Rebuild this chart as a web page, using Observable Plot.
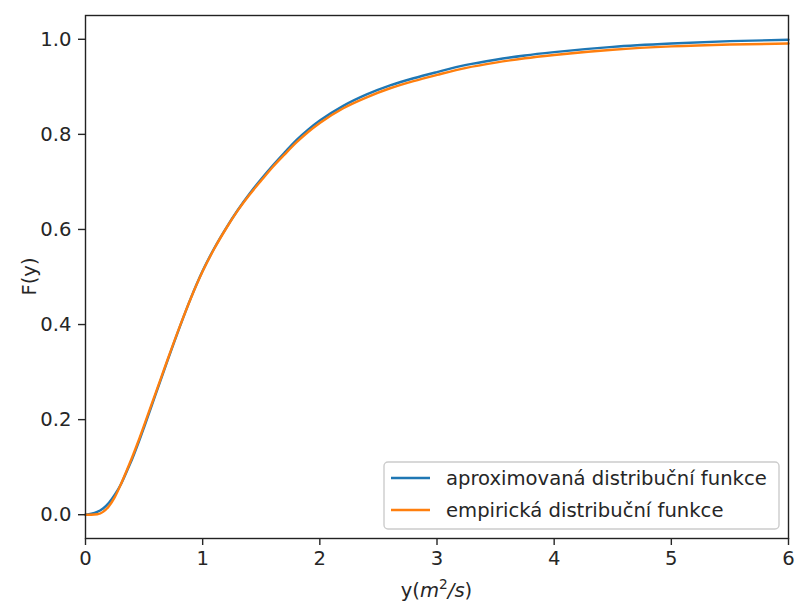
<!DOCTYPE html>
<html><head><meta charset="utf-8">
<script src="https://cdn.jsdelivr.net/npm/d3@7"></script>
<script src="https://cdn.jsdelivr.net/npm/@observablehq/plot@0.6"></script>
<style>
body{margin:0;background:#fff;}
#wrap{position:relative;width:795px;height:604px;}
</style></head><body><div id="wrap"></div>
<script>
// series names and colours
const seriesNames = ["aproximovaná distribuční funkce", "empirická distribuční funkce"];
const seriesColors = ["#1f77b4", "#ff7f0e"];
// x tick / y tick values
const xTicks = [0, 1, 2, 3, 4, 5, 6];
const yTicks = [0.0, 0.2, 0.4, 0.6, 0.8, 1.0];
// approximated CDF
const approxX = [0, 0.05, 0.1, 0.15, 0.2, 0.25, 0.3, 0.35, 0.4, 0.45, 0.5, 0.6, 0.7, 0.8, 0.9, 1.0, 1.1, 1.2, 1.3, 1.4, 1.5, 1.6, 1.7, 1.8, 1.9, 2.0, 2.2, 2.4, 2.6, 2.8, 3.0, 3.25, 3.5, 3.75, 4.0, 4.5, 5.0, 5.5, 6.0];
const approxF = [0, 0.002, 0.006, 0.013, 0.025, 0.042, 0.063, 0.09, 0.118, 0.15, 0.184, 0.254, 0.324, 0.392, 0.456, 0.513, 0.561, 0.603, 0.641, 0.675, 0.706, 0.735, 0.762, 0.788, 0.81, 0.829, 0.86, 0.884, 0.903, 0.918, 0.931, 0.946, 0.957, 0.966, 0.973, 0.984, 0.991, 0.996, 0.999];
const empX = [0, 0.05, 0.1, 0.15, 0.2, 0.25, 0.3, 0.35, 0.4, 0.45, 0.5, 0.6, 0.7, 0.8, 0.9, 1.0, 1.1, 1.2, 1.3, 1.4, 1.5, 1.6, 1.7, 1.8, 1.9, 2.0, 2.2, 2.4, 2.6, 2.8, 3.0, 3.25, 3.5, 3.75, 4.0, 4.5, 5.0, 5.5, 6.0];
const empF = [0, 0.0, 0.001, 0.006, 0.018, 0.037, 0.063, 0.092, 0.122, 0.154, 0.188, 0.257, 0.326, 0.393, 0.456, 0.512, 0.56, 0.602, 0.64, 0.673, 0.703, 0.732, 0.758, 0.783, 0.805, 0.824, 0.855, 0.878, 0.897, 0.912, 0.925, 0.94, 0.951, 0.96, 0.967, 0.978, 0.985, 0.989, 0.991];

const data = [
  ...approxX.map((x, i) => ({x, F: approxF[i], s: seriesNames[0]})),
  ...empX.map((x, i) => ({x, F: empF[i], s: seriesNames[1]}))
];

const FONT = "DejaVu Sans";
const FS = 19.6;

const plot = Plot.plot({
  width: 795, height: 604,
  marginLeft: 85, marginRight: 7, marginTop: 15, marginBottom: 66,
  style: {fontFamily: FONT, fontSize: FS + "px", color: "#262626", background: "#fff"},
  x: {domain: [0, 6], label: null},
  y: {domain: [-0.05, 1.05], label: null},
  color: {domain: seriesNames, range: seriesColors},
  marks: [
    Plot.line(data, {x: "x", y: "F", stroke: "s", strokeWidth: 2.4, curve: "monotone-x"}),
    Plot.frame({stroke: "#222", strokeWidth: 1.4}),
    Plot.axisX({ticks: xTicks, tickFormat: d3.format("d"), tickSize: 7, tickPadding: 6, strokeWidth: 1.4, label: null}),
    Plot.axisY({ticks: yTicks, tickFormat: d3.format(".1f"), tickSize: 7, tickPadding: 7, strokeWidth: 1.4, label: null})
  ]
});
document.getElementById("wrap").appendChild(plot);

const svg = d3.select(plot);
// y label
svg.append("text")
  .attr("transform", "translate(29,276.5) rotate(-90)")
  .attr("text-anchor", "middle").attr("dominant-baseline", "central")
  .attr("font-family", FONT).attr("font-size", FS).attr("fill", "#262626")
  .text("F(y)");
// x label with mathtext
const xl = svg.append("text")
  .attr("x", 436.5).attr("y", 597)
  .attr("text-anchor", "middle")
  .attr("font-family", FONT).attr("font-size", FS).attr("fill", "#262626");
xl.append("tspan").text("y(");
xl.append("tspan").attr("font-style", "italic").text("m");
xl.append("tspan").attr("font-size", FS * 0.7).attr("dy", -8).text("2");
xl.append("tspan").attr("font-style", "italic").attr("dy", 8).text("/s");
xl.append("tspan").text(")");

// legend
const lg = svg.append("g");
lg.append("rect").attr("x", 384).attr("y", 462).attr("width", 395).attr("height", 67)
  .attr("rx", 4).attr("fill", "white").attr("fill-opacity", 0.8)
  .attr("stroke", "#cccccc").attr("stroke-width", 1.4);
seriesNames.forEach((n, i) => {
  const cy = 478 + i * 32;
  lg.append("line").attr("x1", 391).attr("x2", 430).attr("y1", cy).attr("y2", cy)
    .attr("stroke", seriesColors[i]).attr("stroke-width", 2.4);
  lg.append("text").attr("x", 446).attr("y", cy).attr("dominant-baseline", "central")
    .attr("text-anchor", "start")
    .attr("font-family", FONT).attr("font-size", FS).attr("fill", "#262626").text(n);
});
</script>
</body></html>
